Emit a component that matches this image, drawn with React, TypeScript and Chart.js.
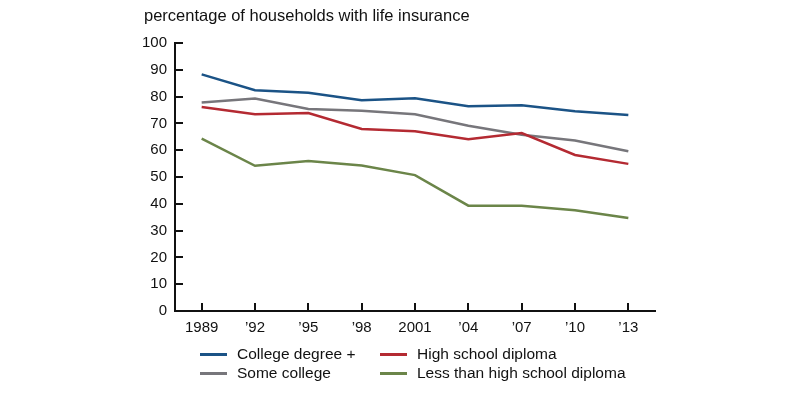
import React, { useEffect, useRef } from "react";
import { Chart, registerables } from "chart.js";

Chart.register(...registerables);

const years = ["1989", "’92", "’95", "’98", "2001", "’04", "’07", "’10", "’13"];
const collegeDegree = [88.3, 82.4, 81.4, 78.6, 79.4, 76.4, 76.8, 74.5, 73.1];
const someCollege = [77.8, 79.3, 75.4, 74.7, 73.4, 69.1, 65.8, 63.6, 59.6];
const highSchool = [76.1, 73.4, 73.9, 67.9, 67.1, 64.1, 66.4, 58.2, 54.9];
const lessThanHS = [64.3, 54.2, 56.0, 54.3, 50.7, 39.3, 39.3, 37.6, 34.7];
const yTicks = [0, 10, 20, 30, 40, 50, 60, 70, 80, 90, 100];

const COLORS = {
  college: "#1b5386",
  some: "#77767b",
  hs: "#b42a32",
  less: "#6b8549",
};

const FONT = "'Liberation Sans', Arial, Helvetica, sans-serif";

const inwardTicks = {
  id: "inwardTicks",
  afterDraw(chart: any) {
    const ctx = chart.ctx;
    const x = chart.scales.x;
    const y = chart.scales.y;
    const area = chart.chartArea;
    ctx.save();
    ctx.strokeStyle = "#111";
    ctx.lineWidth = 2;
    ctx.beginPath();
    yTicks.forEach((v) => {
      const py = Math.round(y.getPixelForValue(v));
      ctx.moveTo(area.left, py);
      ctx.lineTo(area.left + 8, py);
    });
    years.forEach((_, i) => {
      const px = Math.round(x.getPixelForValue(i));
      ctx.moveTo(px, area.bottom);
      ctx.lineTo(px, area.bottom - 8);
    });
    ctx.stroke();
    ctx.restore();
  },
};

export default function App() {
  const ref = useRef<HTMLCanvasElement>(null);
  useEffect(() => {
    document.body.style.margin = "0";
    const mk = (label: string, data: number[], color: string) => ({
      label,
      data,
      borderColor: color,
      backgroundColor: color,
      borderWidth: 2.5,
      pointRadius: 0,
      tension: 0,
      fill: false,
    });
    const chart = new Chart(ref.current!, {
      type: "line",
      data: {
        labels: years,
        datasets: [
          mk("Less than high school diploma", lessThanHS, COLORS.less),
          mk("High school diploma", highSchool, COLORS.hs),
          mk("Some college", someCollege, COLORS.some),
          mk("College degree +", collegeDegree, COLORS.college),
        ],
      },
      options: {
        animation: false,
        responsive: false,
        maintainAspectRatio: false,
        layout: { padding: { top: 43, right: 145, bottom: 0, left: 0 } },
        plugins: { legend: { display: false }, tooltip: { enabled: false }, title: { display: false } },
        scales: {
          x: {
            type: "category",
            offset: true,
            grid: { display: false, drawTicks: false },
            border: { display: true, color: "#111", width: 2 },
            ticks: {
              color: "#111",
              font: { family: FONT, size: 15 },
              padding: 8,
              maxRotation: 0,
              autoSkip: false,
            },
            afterFit: (s: any) => {
              s.height = 83;
            },
          },
          y: {
            min: 0,
            max: 100,
            grid: { display: false, drawTicks: false },
            border: { display: true, color: "#111", width: 2 },
            ticks: {
              stepSize: 10,
              color: "#111",
              font: { family: FONT, size: 15 },
              padding: 8,
            },
            afterFit: (s: any) => {
              s.width = 175;
            },
          },
        },
      },
      plugins: [inwardTicks],
    });
    return () => chart.destroy();
  }, []);

  const legendItem = (color: string, text: string, left: number, top: number) => (
    <div style={{ position: "absolute", left, top, display: "flex", alignItems: "center", whiteSpace: "nowrap" }}>
      <div style={{ width: 27, height: 3, background: color, marginRight: 10 }} />
      <span style={{ fontFamily: FONT, fontSize: 15.5, color: "#111", lineHeight: "20px" }}>{text}</span>
    </div>
  );

  return (
    <div style={{ position: "relative", width: 800, height: 394, background: "#fff", overflow: "hidden" }}>
      <canvas ref={ref} width={800} height={394} style={{ position: "absolute", left: 0, top: 0, width: 800, height: 394 }} />
      <div
        style={{
          position: "absolute",
          left: 144,
          top: 5,
          fontFamily: FONT,
          fontSize: 16.5,
          color: "#111",
          lineHeight: "20px",
          whiteSpace: "nowrap",
        }}
      >
        percentage of households with life insurance
      </div>
      {legendItem(COLORS.college, "College degree +", 200, 344)}
      {legendItem(COLORS.some, "Some college", 200, 363)}
      {legendItem(COLORS.hs, "High school diploma", 380, 344)}
      {legendItem(COLORS.less, "Less than high school diploma", 380, 363)}
    </div>
  );
}
